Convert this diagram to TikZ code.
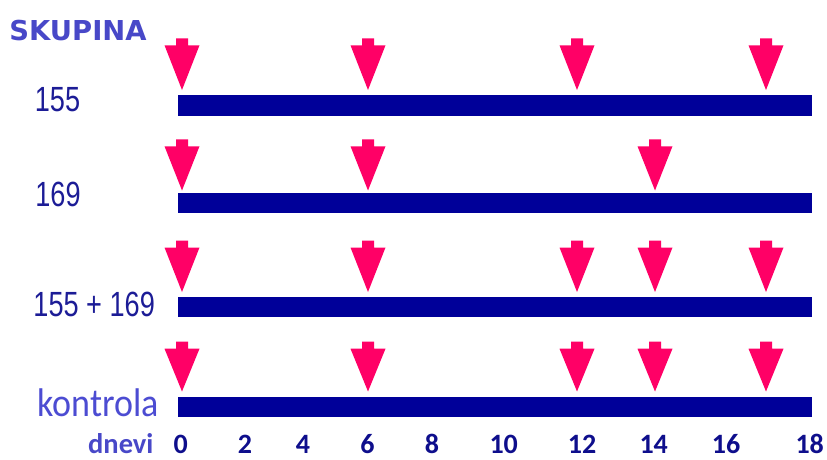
\documentclass[tikz,border=0pt]{standalone}
\usepackage{fontspec}
\usepackage{graphicx}
\setmainfont{Liberation Sans}
\newfontfamily\labfont{Liberation Sans}
\newfontfamily\calfont{Carlito}
\newfontfamily\dvfont{DejaVu Sans}
\definecolor{arrowpink}{RGB}{255,0,102}
\definecolor{barnavy}{RGB}{0,0,153}
\definecolor{labnavy}{RGB}{28,28,150}
\definecolor{titleblue}{RGB}{72,72,200}
\definecolor{kontblue}{RGB}{76,76,210}
\definecolor{daynavy}{RGB}{14,14,140}
\newcommand{\DownArrow}[3]{%
  \fill[arrowpink] (#1-6,#2) -- (#1+6,#2) -- (#1+6,#2+7) -- (#1+17.5,#2+7)
    -- (#1,#3) -- (#1-17.5,#2+7) -- (#1-6,#2+7) -- cycle;}
\tikzset{
  grouplab/.style={anchor=base, inner sep=0pt, text=labnavy,
    font=\labfont\fontsize{35}{35}\selectfont},
  daylab/.style={anchor=base, inner sep=0pt, text=daynavy,
    font=\calfont\bfseries\fontsize{28}{28}\selectfont},
  bar/.style={fill=barnavy}
}
\begin{document}
\begin{tikzpicture}[x=1pt,y=-1pt]
\useasboundingbox (0,0) rectangle (827,459);
% title
\node[anchor=base, inner sep=0pt, text=titleblue,
  font=\dvfont\bfseries\fontsize{27.4}{27.4}\selectfont] (title) at (78,40.7) {SKUPINA};
% group labels
\node[grouplab] (g1) at (57.5,111.7) {\scalebox{0.775}[1]{155}};
\node[grouplab] (g2) at (58,206) {\scalebox{0.775}[1]{169}};
\node[grouplab] (g3) at (94.2,316.7) {\scalebox{0.775}[1]{155 + 169}};
\node[anchor=base, inner sep=0pt, text=kontblue,
  font=\calfont\fontsize{40}{40}\selectfont] (g4) at (98.3,416.7) {\scalebox{0.9}[1]{kontrola}};
% bars
\fill[bar] (177.5,95) rectangle (811.7,116);
\fill[bar] (177.5,193.3) rectangle (811.7,213.3);
\fill[bar] (177.5,296.7) rectangle (811.7,317.3);
\fill[bar] (177.5,396.7) rectangle (811.7,417.3);
% row 1 arrows
\foreach \xx in {182,368,577,766} {\DownArrow{\xx}{38.3}{90}}
% row 2 arrows
\foreach \xx in {182,368,655} {\DownArrow{\xx}{139.3}{190.5}}
% row 3 arrows
\foreach \xx in {182,368,577,655,766} {\DownArrow{\xx}{240.5}{292}}
% row 4 arrows
\foreach \xx in {182,368,577,655,766} {\DownArrow{\xx}{341.7}{391.5}}
% axis
\node[anchor=base, inner sep=0pt, text=titleblue,
  font=\calfont\bfseries\fontsize{28.5}{28.5}\selectfont] (dnevi) at (120.8,453.3) {dnevi};
\node[daylab] (d0) at (180.8,453.3) {0};
\node[daylab] (d2) at (245,453.3) {2};
\node[daylab] (d4) at (303,453.3) {4};
\node[daylab] (d6) at (367.5,453.3) {6};
\node[daylab] (d8) at (432,453.3) {8};
\node[daylab] (d10) at (503.7,453.3) {10};
\node[daylab] (d12) at (582,453.3) {12};
\node[daylab] (d14) at (653.7,453.3) {14};
\node[daylab] (d16) at (726,453.3) {16};
\node[daylab] (d18) at (809.7,453.3) {18};
\end{tikzpicture}
\end{document}
